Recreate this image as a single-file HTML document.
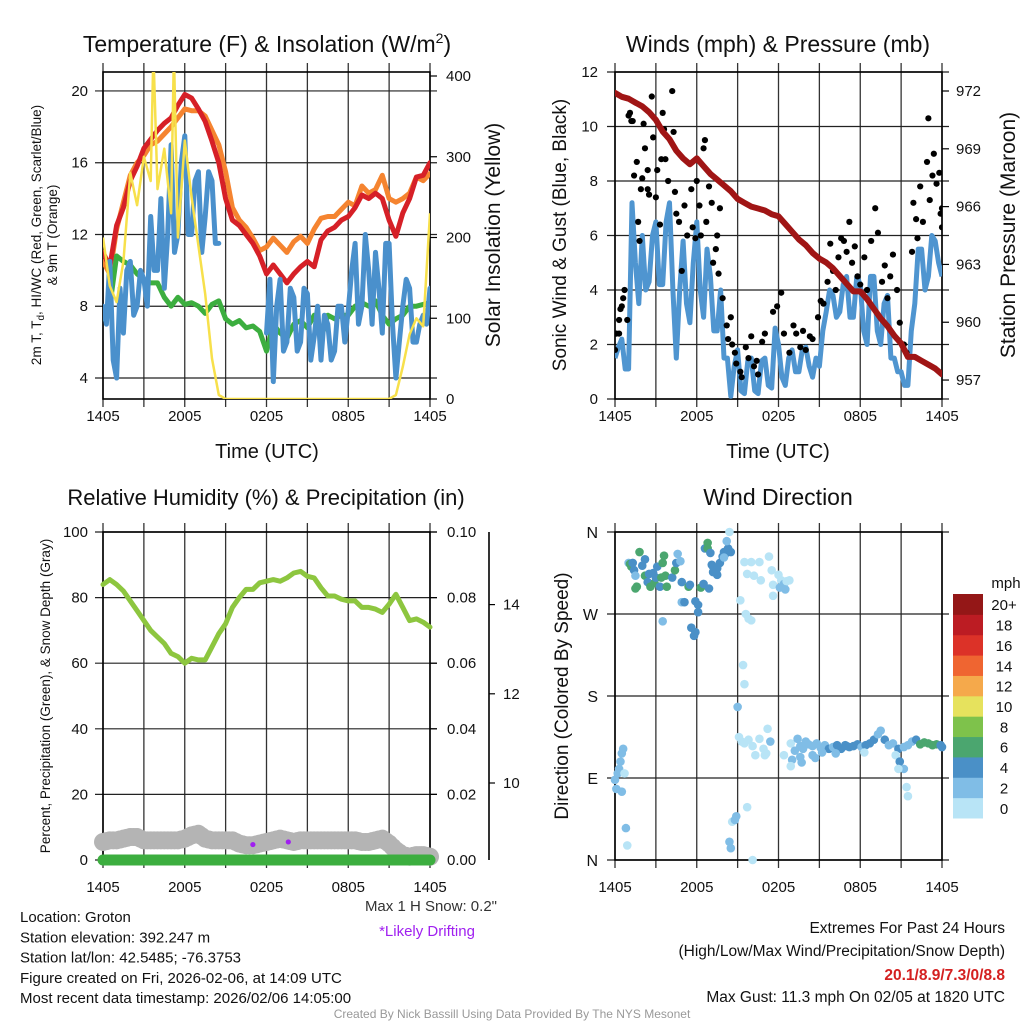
<!DOCTYPE html>
<html><head><meta charset="utf-8"><style>
html,body{margin:0;padding:0;background:#fff;}
svg{display:block;font-family:"Liberation Sans",sans-serif;}
</style></head><body>
<svg id="chart" width="1024" height="1024" viewBox="0 0 1024 1024" xmlns="http://www.w3.org/2000/svg">
<defs>
<clipPath id="c1"><rect x="103" y="72" width="327" height="327"/></clipPath>
<clipPath id="c2"><rect x="615" y="72" width="327" height="327"/></clipPath>
<clipPath id="c3"><rect x="90" y="524" width="355" height="345"/></clipPath>
<clipPath id="c4"><rect x="607" y="524" width="345" height="345"/></clipPath>
</defs>
<rect x="0" y="0" width="1024" height="1024" fill="#fff"/>
</svg>
<script>
// ---------- DATA (0.5 h grid, 0..24 h from 1405 UTC) ----------
const xTickLabels = ["1405","2005","0205","0805","1405"];
const tempRed = [11,10.2,12.5,13.5,15,15.8,16.8,17.3,17.8,18.2,18.5,19.2,19.8,19.6,19,18.3,17.2,16,14,12.8,12.5,12,11.5,10.8,9.8,10.3,9.8,9.3,9.8,10.2,10.5,10.2,11.7,12.2,12.4,12.8,13,13.5,14.2,14,14.3,14,12.8,11.9,13.2,14,15.2,15.3,16];
const temp9m = [10.5,9.8,12.3,13.8,15.3,16,16.4,17,17.2,17.6,18,18.5,19,18.9,18.9,18.6,17.8,17,15.5,13.5,12.8,12.4,11.8,11.1,11.3,11.8,11.4,11,11.6,11.9,11.5,12.3,12.9,13,13,13.4,13.8,13.6,14.7,14.3,14.5,15.3,14,13.8,14,14.3,15.2,15,15.4];
const dewpoint = [7.3,8,10.8,10.5,10.3,9.8,9.5,9.3,9.3,8.5,8,8.5,8.1,8.2,8,7.6,8.1,8.3,7.3,7,7.2,6.8,6.9,6.6,5.5,7,6.5,6.2,7,7.2,6.8,7.5,6.2,7.5,7.3,7.5,7.5,8,8.2,8,8.3,7.5,7,7.3,7.5,8,8,8.1,8.2];
// quarter-hour wind chill (97 values)
const windChill = [8,7,10.5,5,4,9,6.5,10,10.5,7.5,8,10,9.5,8,13,10,10,14,9,12,17,11,12,16,17.5,12,12,15,15.5,11,13,15.5,15,11.5,11.5,null,null,null,null,null,null,null,null,null,null,null,null,null,6.5,9.5,3.8,8,9.5,5.5,6,9,8.5,5.5,6,9,8.7,5,6.3,8,5,7.5,7,5,5.5,8,8,6,7.8,10,11.5,7,8,12,10,7,11,9,6.5,11.5,11.5,7,4,6,8,9.5,9,6,6,7,7.5,7,9];
const insolation = [200,140,120,170,280,240,300,270,260,310,230,200,320,250,190,130,50,5,0,0,0,0,0,0,0,0,0,0,0,0,0,0,0,0,0,0,0,0,0,0,0,0,0,5,40,80,100,90,230];
const insoSpikeHours = [3.7,5.2];
const insoSpikeValues = [430,430];
const pressure = [971.9,971.7,971.6,971.4,971.2,970.9,970.5,969.9,969.5,968.9,968.5,968.2,968.5,968.1,967.7,967.4,967.1,966.8,966.4,966.2,966,965.9,965.8,965.6,965.5,965.1,964.7,964.3,964,963.6,963.3,963.1,962.8,962.4,962,961.6,961.6,961.2,960.7,960.2,959.8,959.3,958.9,958.2,958.2,958,957.8,957.6,957.3];
// quarter-hour sonic wind (97 values)
const sonicWind = [1.5,1.9,2.2,1.1,1.1,7.2,5,3.5,6,4,4.3,6,6.5,4.2,4.2,6.5,7.2,4,1.5,4,5.8,3.5,2.8,5,6.5,4,3,5.5,4.5,2.5,2.5,4,1.5,1.5,0.1,1.2,1.8,0.3,0.2,1.4,1.5,0.3,0.2,1.4,1.5,0.5,0.4,2.6,2,0.8,0.5,1.5,1.8,1,1,1.8,1.9,1.2,0.8,1.5,1.2,2.5,3.2,4,3.8,3,3.2,4.2,4.5,3,3,4.5,4.2,2.5,2,4.5,4.5,2.5,2,3.5,3.8,1.5,1.5,1,1,0.5,0.5,2.5,3.5,5.5,5.5,4,4.5,6,5.8,5,4.5];
const gustHours = [0,0.1,0.3,0.3,0.4,0.5,0.6,0.7,0.9,1,1.1,1.2,1.3,1.4,1.6,1.7,1.8,1.9,2,2.1,2.2,2.4,2.4,2.5,2.7,2.8,3,3.1,3.3,3.4,3.5,3.6,3.7,3.9,4.2,4.3,4.4,4.5,4.7,4.9,5.1,5.3,5.6,5.7,5.9,6,6.2,6.3,6.5,6.6,6.7,6.9,7.1,7.2,7.4,7.5,7.7,7.6,7.9,8.2,8.3,8.5,8.6,8.8,8.9,9.2,9.3,9.6,9.8,10,10.2,10.4,10.5,10.8,11,11.6,11.9,12.2,12.4,12.8,13.1,13.3,13.6,13.8,14,14.3,14.5,14.9,15.1,15.3,15.6,15.8,16,16.2,16.4,16.6,16.8,17,17.2,17.4,17.6,17.8,18,18.3,18.5,18.8,19.1,19.3,19.6,19.8,20,20.2,20.4,20.7,20.9,21.2,21.4,21.8,21.9,22.1,22.2,22.4,22.6,22.9,23,23.1,23.3,23.4,23.6,23.8,23.9,24,24];
const gustValues = [1.8,2.4,2.4,2.9,3.3,3.4,3.7,4,2.9,10.4,10.5,10.2,10.2,8.2,8.7,6.5,5.8,7.7,8.1,10.1,9.2,7.7,8.4,7.5,11.1,9.6,7.4,8.4,6.4,8.8,10.5,9.9,8.8,8,11.3,9.8,7.6,6.8,6.5,4.7,7.1,6,7.7,6.3,5.9,8,7.1,6,9.2,9.5,6.5,7.8,7.2,5,5.5,6,7,4.6,3.7,2.7,2.2,3,2,1.7,1.3,1,0.8,1.9,1.5,2.3,1.2,1.4,0.9,2.1,2.4,3.2,3.4,3.9,2.4,1.7,2.7,2.4,1.9,2.5,1.8,2.3,2.2,3,3.6,3.5,4.3,5.7,4.7,4,5.2,5.9,5.8,5.4,6.5,5,5.6,4.5,4.2,5.2,4,5.8,7,6.1,4.3,4.9,3.7,4.5,5.3,4,2.8,2,1.7,5.4,7.2,6.6,5.9,7.8,6.5,8.7,10.3,7.3,8.2,9,7.9,8.3,6.8,7,6.3];
const relHumidity = [84,85.5,84,82,79,76,73,70,68,66,63,62,60,61.5,61,61,65,69,72,77,80,82.5,82.5,84.5,85,85.5,85,86,87.5,88,86.5,86,83,80.5,80.5,79.5,79,79,77,77,76.5,75.5,78,81,77,73,73.5,72.5,71];
const snowDepth = [5.5,6,6,6.5,7,7,6,6,6,6,6,6,6.5,7.5,8,6.5,6,6,6,6,5,4.5,4.5,5,5.5,6,6.5,6,5.5,6,6,6,6,6,6,6,6,6,5.5,5.5,6,6.5,5,3,1.5,1,1.5,1.5,1];
const precip = [0,0,0,0,0,0,0,0,0,0,0,0,0,0,0,0,0,0,0,0,0,0,0,0,0,0,0,0,0,0,0,0,0,0,0,0,0,0,0,0,0,0,0,0,0,0,0,0,0];
const driftHours = [11.0,13.6];
const driftValues = [4.7,5.5];
const dirHours = [0,0.1,0.2,0.3,0.4,0.5,0.6,0.5,0.7,0.8,0.9,1,1.1,1.2,1.3,1.4,1.5,1.5,1.6,1.8,2,2.2,2.2,2.4,2.5,2.6,2.8,2.9,3,3.1,3.3,3.4,3.5,3.6,3.7,3.8,3.5,4.2,4.4,4.5,4.6,4.8,4.9,4.9,5.1,5.4,5.5,5.6,5.8,5.9,5.9,6.1,6.1,6.3,6.5,6.6,6.8,6.8,7,7.1,7.2,7.5,7.7,7.9,8,8.1,8.3,8.5,8.2,8.4,7.2,6.9,7.5,8,9.5,9.7,10,10.2,10.6,10.7,11.3,11.5,11.6,11.6,12,12.2,12.4,12.6,12.8,12.1,12.5,9.2,9.6,9.8,10,9.4,9.5,9,8.6,8.8,8.9,8.4,8.5,10.1,9.7,9.1,9.3,9.5,9.8,10.1,10.3,10.6,10.9,11,11.2,11.4,11.1,12.9,13.2,13.4,13.6,13.8,14,14.2,14.5,14.8,15.1,15.4,15.7,16,16.3,16.6,16.9,17.2,17.5,17.8,18.1,18.4,18.7,19,19.3,19.5,19.8,20.1,20.4,20.8,21.2,21.5,21.8,22.1,22.4,22.7,23,23.3,23.6,23.9,24,13,13.6,14.5,15.2,16.2,17,18.3,20.6,20.9,21.2,21.4,21.5,20.8,12.9,12.4,13.7,14.7];
const dirDegrees = [88,78,95,100,108,117,122,75,95,35,16,326,325,322,326,318,312,298,300,338,323,330,312,305,314,300,315,304,310,322,300,310,326,334,312,300,262,310,318,326,336,328,305,283,283,300,302,255,246,250,284,272,280,299,303,342,348,342,337,324,322,320,326,333,338,336,342,338,350,360,316,298,313,332,327,314,327,312,327,307,333,318,302,290,313,307,303,306,307,299,297,285,270,265,263,214,193,168,42,44,48,20,13,0,58,135,130,128,132,125,115,133,122,115,144,130,117,128,120,133,125,122,130,127,125,128,123,126,122,124,126,122,126,124,125,127,124,126,128,132,138,142,132,126,128,122,124,126,130,132,127,129,128,126,127,126,124,110,113,115,118,117,125,118,115,108,100,80,70,100,103,115,107,112];
const dirSpeeds = [3,3,3,3,3,3,3,3,1,3,1,3,6,6,4,4,3,6,6,6,4,4,6,4,4,6,4,6,4,4,4,6,6,6,6,6,3,4,6,4,3,3,4,3,4,6,4,4,4,4,4,4,4,6,4,4,6,6,4,4,4,4,4,4,4,4,4,4,3,1,4,4,4,3,1,1,1,1,1,1,1,1,1,1,1,1,3,1,1,3,3,1,1,1,1,1,1,2,1,2,3,2,2,1,1,1,1,1,1,1,1,1,1,1,1,3,1,1,3,3,3,3,3,3,3,3,3,3,4,3,4,4,4,4,4,4,3,4,4,4,3,3,4,3,3,4,3,3,3,4,6,6,6,6,6,4,4,3,3,3,3,3,4,1,1,4,3,1,1,1,1,1,3];
const colorbarLabels = ["0","2","4","6","8","10","12","14","16","18","20+"];
const colorbarColors = ["#b8e4f6","#80bde6","#4a90c7","#4ba66f","#7ec24b","#e6e25d","#f5a94b","#ef6531","#dc3228","#bc1c23","#941717"];
const p1LeftTicks = [4,8,12,16,20];
const p1RightTicks = [0,100,200,300,400];
const p2LeftTicks = [0,2,4,6,8,10,12];
const p2RightTicks = [957,960,963,966,969,972];
const p3LeftTicks = [0,20,40,60,80,100];
const p3RightTicks = ["0.00","0.02","0.04","0.06","0.08","0.10"];
const p3OuterTicks = [10,12,14];
const p4DirLabels = ["N","E","S","W","N"];

// ---------- helpers ----------
const NS="http://www.w3.org/2000/svg";
const svg=document.getElementById('chart');
function el(tag,attrs,parent){const e=document.createElementNS(NS,tag);for(const k in attrs)e.setAttribute(k,attrs[k]);(parent||svg).appendChild(e);return e;}
function txt(s,attrs,parent){const e=el('text',attrs,parent);e.textContent=s;return e;}
function grp(clip){return el('g',clip?{'clip-path':'url(#'+clip+')'}:{});}
function hoursFor(arr){return arr.map((_,i)=>i*24/(arr.length-1));}
const gridHours=hoursFor(tempRed);
function xs(x0){return h=>x0+h*327/24;}
function pathFrom(hours,vals,xf,yf){let d='',pen=false;for(let i=0;i<vals.length;i++){const v=vals[i];if(v===null||v===undefined){pen=false;continue;}d+=(pen?'L':'M')+xf(hours[i]).toFixed(1)+' '+yf(v).toFixed(1);pen=true;}return d;}

function frame(pid,x0,yT,yB,hLines,xLabY){
  const g=el('g',{});
  
  
  const X=xs(x0);
  for(let k=0;k<=8;k++){const x=X(k*3);const l=el('line',{x1:x,x2:x,y1:yT-9,y2:yB+8,stroke:'#333','stroke-width':1.3},g);
    
    }
  hLines.forEach(y=>{const l=el('line',{x1:x0-8,x2:x0+327+7,y1:y,y2:y,stroke:'#222','stroke-width':1.2},g);
    
    });
  const r=el('rect',{x:x0,y:yT,width:327,height:yB-yT,fill:'none',stroke:'#000','stroke-width':1.6},g);
  
  
  xTickLabels.forEach((s,i)=>{const t=txt(s,{x:X(i*6),y:xLabY,'font-size':15,'text-anchor':'middle',fill:'#111'});
    
    });
}
function rotText(s,x,y,size,name){const t=txt(s,{x:0,y:0,'font-size':size,'text-anchor':'middle',transform:`translate(${x},${y}) rotate(-90)`,fill:'#111'});
  
  return t;}

// ---------- Panel 1 ----------
{const X=xs(103);const yL=v=>378-(v-4)*17.94;const yR=v=>399-v*0.8075;
 frame('temp-panel',103,72,399,p1LeftTicks.map(yL),421);
 p1LeftTicks.forEach(v=>{const t=txt(String(v),{x:88,y:yL(v)+5,'font-size':15,'text-anchor':'end',fill:'#111'});
   
   });
 p1RightTicks.forEach(v=>{const t=txt(String(v),{x:446,y:yR(v)+5,'font-size':15,fill:'#111'});
   
   
   const k=el('line',{x1:430,x2:437,y1:yR(v),y2:yR(v),stroke:'#000','stroke-width':1.2});
   
   });
 const g=grp('c1');
 const hs=gridHours.slice(),vs=insolation.slice();
 insoSpikeHours.forEach((h,i)=>{let j=hs.findIndex(q=>q>h);hs.splice(j,0,h);vs.splice(j,0,insoSpikeValues[i]);});
 const p0=el('path',{d:pathFrom(gridHours,temp9m,X,yL),fill:'none',stroke:'#f58430','stroke-width':5,'stroke-linejoin':'round','stroke-linecap':'round'},g);
 
 
 const p1=el('path',{d:pathFrom(gridHours,tempRed,X,yL),fill:'none',stroke:'#d62027','stroke-width':5,'stroke-linejoin':'round','stroke-linecap':'round'},g);
 
 
 const p2=el('path',{d:pathFrom(gridHours,dewpoint,X,yL),fill:'none',stroke:'#3cae3f','stroke-width':5,'stroke-linejoin':'round','stroke-linecap':'round'},g);
 
 
 const p3=el('path',{d:pathFrom(hoursFor(windChill),windChill,X,yL),fill:'none',stroke:'#4a90cc','stroke-width':5,'stroke-linejoin':'round','stroke-linecap':'round'},g);
 
 
 const p4=el('path',{d:pathFrom(hs,vs,X,yR),fill:'none',stroke:'#f7e04b','stroke-width':2.5,'stroke-linejoin':'round'},g);
 
 
 const t=txt('',{x:267,y:52,'font-size':23,'text-anchor':'middle',fill:'#111'});
 t.innerHTML='Temperature (F) &amp; Insolation (W/m<tspan dy="-9" font-size="14">2</tspan><tspan dy="9">)</tspan>';
 
 
 const a=txt('Time (UTC)',{x:267,y:458,'font-size':20,'text-anchor':'middle',fill:'#111'});
 
 
 const l1=rotText('',41,235,13.5,'temp-y-axis-title');
 l1.innerHTML='2m T, T<tspan dy="3" font-size="10">d</tspan><tspan dy="-3">, HI/WC (Red, Green, Scarlet/Blue)</tspan>';
 rotText('& 9m T (Orange)',57,235,13.5,'temp-y-axis-title-line2');
 rotText('Solar Insolation (Yellow)',500,235,21,'insolation-y-axis-title');
}

// ---------- Panel 2 ----------
{const X=xs(615);const yL=v=>399-v*27.25;const yR=p=>91+(972-p)*19.27;
 frame('wind-panel',615,72,399,p2LeftTicks.map(yL),421);
 p2LeftTicks.forEach(v=>{const t=txt(String(v),{x:598,y:yL(v)+5,'font-size':15,'text-anchor':'end',fill:'#111'});
   
   });
 p2RightTicks.forEach(v=>{const t=txt(String(v),{x:956,y:yR(v)+5,'font-size':15,fill:'#111'});
   
   
   const k=el('line',{x1:942,x2:949,y1:yR(v),y2:yR(v),stroke:'#000','stroke-width':1.2});
   
   });
 const g=grp('c2');
 const w=el('path',{d:pathFrom(hoursFor(sonicWind),sonicWind,X,yL),fill:'none',stroke:'#4f95d0','stroke-width':5,'stroke-linejoin':'round'},g);
 
 
 gustHours.forEach((h,i)=>{const c=el('circle',{cx:X(h),cy:yL(gustValues[i]),r:3.1,fill:'#000'},g);
   
   });
 const p=el('path',{d:pathFrom(gridHours,pressure,X,yR),fill:'none',stroke:'#a01515','stroke-width':6,'stroke-linejoin':'round','stroke-linecap':'round'},g);
 
 
 const t=txt('Winds (mph) & Pressure (mb)',{x:778,y:52,'font-size':23,'text-anchor':'middle',fill:'#111'});
 
 
 const a=txt('Time (UTC)',{x:778,y:458,'font-size':20,'text-anchor':'middle',fill:'#111'});
 
 
 rotText('Sonic Wind & Gust (Blue, Black)',566,235,19,'wind-y-axis-title');
 rotText('Station Pressure (Maroon)',1015,235,21,'pressure-y-axis-title');
}

// ---------- Panel 3 ----------
{const X=xs(103);const yL=v=>860-v*3.28;const yO=v=>783-(v-10)*44.6;
 frame('humidity-panel',103,532,860,p3LeftTicks.map(yL),892);
 p3LeftTicks.forEach(v=>{const t=txt(String(v),{x:88,y:yL(v)+5,'font-size':15,'text-anchor':'end',fill:'#111'});
   
   });
 p3RightTicks.forEach((s,i)=>{const y=yL(i*20);const t=txt(s,{x:447,y:y+5,'font-size':15,fill:'#111'});
   
   
   const k=el('line',{x1:430,x2:437,y1:y,y2:y,stroke:'#000','stroke-width':1.2});
   
   });
 const ax=el('line',{x1:489,x2:489,y1:532,y2:860,stroke:'#000','stroke-width':1.6});
 
 
 p3OuterTicks.forEach(v=>{const t=txt(String(v),{x:503,y:yO(v)+5,'font-size':15,fill:'#111'});
   
   
   const k=el('line',{x1:489,x2:495,y1:yO(v),y2:yO(v),stroke:'#000','stroke-width':1.2});
   
   });
 const g=grp('c3');
 gridHours.forEach((h,i)=>{const c=el('circle',{cx:X(h),cy:yL(snowDepth[i]),r:9,fill:'#b4b4b4'},g);
   
   
   if(i<gridHours.length-1){const c2=el('circle',{cx:X(h+0.25),cy:yL((snowDepth[i]+snowDepth[i+1])/2),r:9,fill:'#b4b4b4'},g);
   
   }});
 const pr=el('path',{d:pathFrom(gridHours,precip,X,v=>yL(v*1000)),fill:'none',stroke:'#3cae3f','stroke-width':11,'stroke-linecap':'round'},g);
 
 
 driftHours.forEach((h,i)=>{const c=el('circle',{cx:X(h),cy:yL(driftValues[i]),r:2.6,fill:'#a020f0'},g);
   
   });
 const rh=el('path',{d:pathFrom(gridHours,relHumidity,X,yL),fill:'none',stroke:'#8dc63f','stroke-width':5,'stroke-linejoin':'round','stroke-linecap':'round'},g);
 
 
 const t=txt('Relative Humidity (%) & Precipitation (in)',{x:266,y:505,'font-size':22,'text-anchor':'middle',fill:'#111'});
 
 
 rotText('Percent, Precipitation (Green), & Snow Depth (Gray)',50,696,13.5,'humidity-y-axis-title');
}

// ---------- Panel 4 ----------
{const X=xs(615);const yD=d=>860-d*328/360;
 frame('direction-panel',615,532,860,[0,90,180,270,360].map(yD),892);
 p4DirLabels.forEach((s,i)=>{const t=txt(s,{x:598,y:yD(i*90)+6,'font-size':16,'text-anchor':'end',fill:'#111'});
   
   });
 const g=grp('c4');
 const n=Math.min(dirHours.length,dirDegrees.length);
 for(let i=0;i<n;i++){const sp=dirSpeeds[i]===undefined?3:dirSpeeds[i];const b=Math.min(10,Math.floor(sp/2));
   const c=el('circle',{cx:X(dirHours[i]),cy:yD(dirDegrees[i]),r:4.3,fill:colorbarColors[b]||'#80bde6'},g);
   
   }
 const t=txt('Wind Direction',{x:778,y:505,'font-size':23,'text-anchor':'middle',fill:'#111'});
 
 
 rotText('Direction (Colored By Speed)',568,696,19,'direction-y-axis-title');
 const cb=el('g',{});
 
 
 const bh=224/colorbarColors.length;
 colorbarColors.forEach((c,i)=>{const r=el('rect',{x:953,y:818-(i+1)*bh,width:30,height:bh+0.5,fill:c},cb);
   
   
   const t2=txt(colorbarLabels[i],{x:1004,y:818-(i+0.5)*bh+6,'font-size':15,'text-anchor':'middle',fill:'#111'},cb);
   
   });
 const m=txt('mph',{x:1006,y:588,'font-size':15,'text-anchor':'middle',fill:'#111'},cb);
 
 
}

// ---------- Footer ----------
{const lines=['Location: Groton','Station elevation: 392.247 m','Station lat/lon: 42.5485; -76.3753','Figure created on Fri, 2026-02-06, at 14:09 UTC','Most recent data timestamp: 2026/02/06 14:05:00'];
 lines.forEach((s,i)=>{const t=txt(s,{x:20,y:922+i*20.3,'font-size':15,fill:'#111'});
   
   });
 const a=txt('Max 1 H Snow: 0.2"',{x:497,y:911,'font-size':15,'text-anchor':'end',fill:'#333'});
 
 
 const b=txt('*Likely Drifting',{x:427,y:936,'font-size':15,'text-anchor':'middle',fill:'#a020f0'});
 
 
 const r=[['Extremes For Past 24 Hours',933,'#111','normal'],['(High/Low/Max Wind/Precipitation/Snow Depth)',956,'#111','normal'],['20.1/8.9/7.3/0/8.8',980,'#d42020','bold'],['Max Gust: 11.3 mph On 02/05 at 1820 UTC',1002,'#111','normal']];
 r.forEach(q=>{const t=txt(q[0],{x:1005,y:q[1],'font-size':15.5,'text-anchor':'end',fill:q[2],'font-weight':q[3]});
   
   });
 const c=txt('Created By Nick Bassill Using Data Provided By The NYS Mesonet',{x:512,y:1018,'font-size':12,'text-anchor':'middle',fill:'#999'});
 
 
}
</script>
</body></html>
